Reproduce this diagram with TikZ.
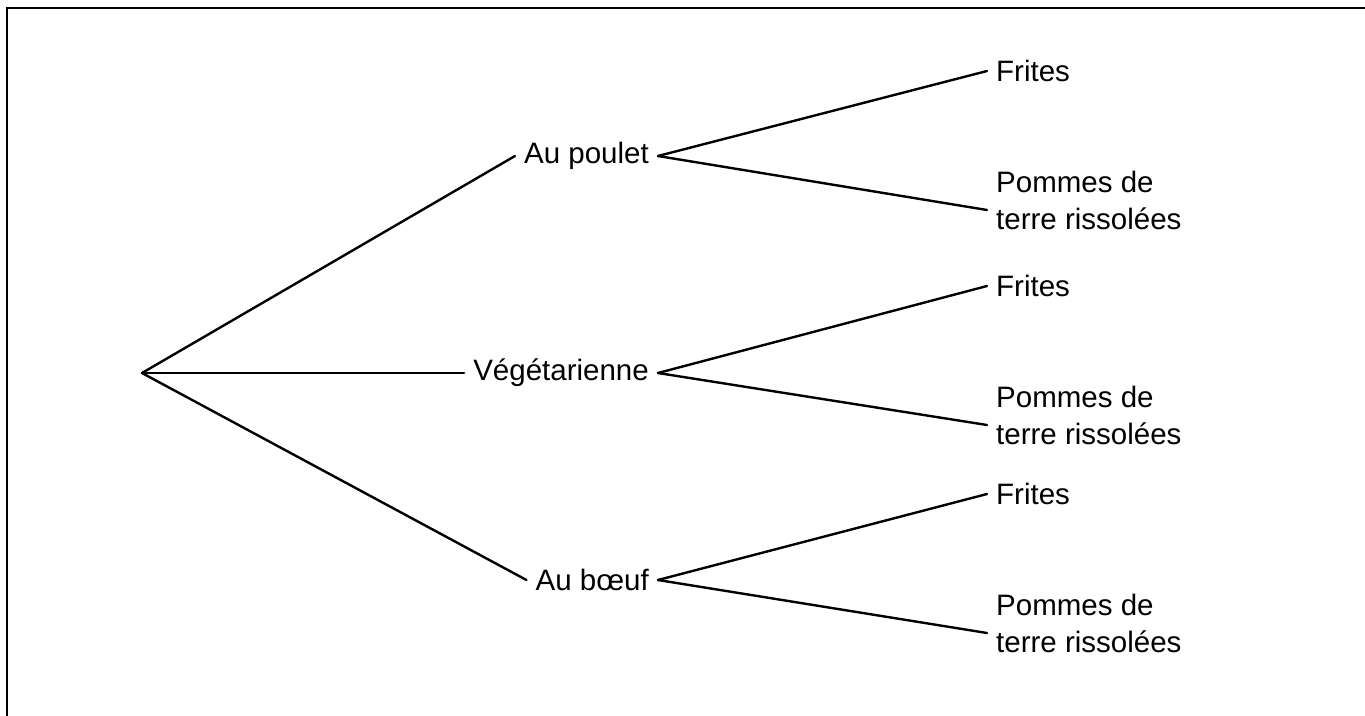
\documentclass[tikz,border=0pt]{standalone}
\usepackage{fontspec}
\setmainfont{Liberation Sans}
\begin{document}
\begin{tikzpicture}[x=1pt,y=-1pt,
  branch/.style={line width=2.4pt, line cap=round},
  mid/.style={inner xsep=9pt, inner ysep=2pt, font=\fontsize{29.5}{35}\selectfont},
  leaf/.style={inner xsep=9pt, inner ysep=0pt, align=left, font=\fontsize{29.5}{37}\selectfont}]
\useasboundingbox (0,0) rectangle (1365,715);
\draw[line width=2pt] (7,716) -- (7,8) -- (1366,8);
\coordinate (root) at (142,373);
\node[mid, anchor=east] (p) at (658,156) {Au poulet};
\node[mid, anchor=east] (v) at (658,373) {Végétarienne};
\node[mid, anchor=east] (b) at (658,580) {Au bœuf};
\node[leaf, anchor=west] (f1) at (987,71) {Frites};
\node[leaf, anchor=west] (r1) at (987,200) {Pommes de\\terre rissolées};
\node[leaf, anchor=west] (f2) at (987,286) {Frites};
\node[leaf, anchor=west] (r2) at (987,415) {Pommes de\\terre rissolées};
\node[leaf, anchor=west] (f3) at (987,494) {Frites};
\node[leaf, anchor=west] (r3) at (987,623) {Pommes de\\terre rissolées};
\draw[branch] (root) -- (p.west);
\draw[branch] (root) -- (v.west);
\draw[branch] (root) -- (b.west);
\draw[branch] (p.east) -- (f1.west);
\draw[branch] (p.east) -- ([yshift=-10pt]r1.west);
\draw[branch] (v.east) -- (f2.west);
\draw[branch] (v.east) -- ([yshift=-10pt]r2.west);
\draw[branch] (b.east) -- (f3.west);
\draw[branch] (b.east) -- ([yshift=-10pt]r3.west);
\end{tikzpicture}
\end{document}
